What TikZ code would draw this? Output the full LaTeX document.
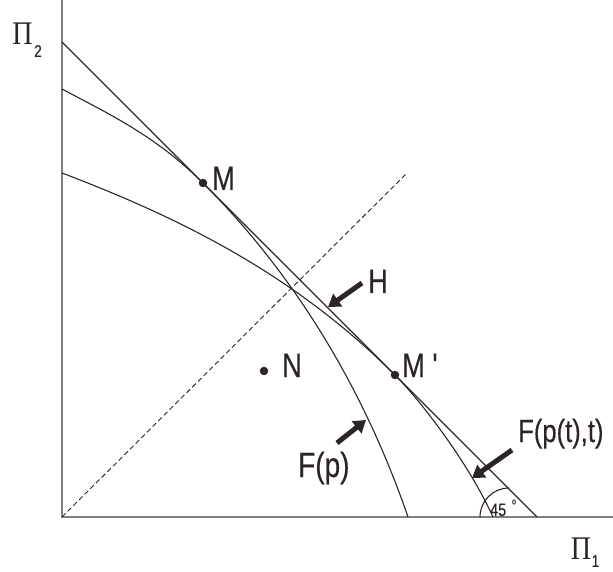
\documentclass[tikz,border=0pt]{standalone}
\usepackage{fontspec}
\newfontfamily\lab{Liberation Sans}[FakeStretch=0.8,FakeBold=0.4]
\newfontfamily\pif{Liberation Serif}[FakeStretch=0.85]
\usetikzlibrary{arrows.meta}
\definecolor{ink}{RGB}{45,36,41}
\definecolor{axisgray}{RGB}{128,128,128}
\begin{document}
\begin{tikzpicture}[x=1pt,y=1pt,
 curve/.style={draw=ink,line width=1.1pt},
 axisline/.style={draw=axisgray,line width=1.6pt},
 fat/.style={draw=ink,line width=5pt,-{Triangle[length=12pt,width=15pt]}},
 lbl/.style={inner sep=0pt,anchor=base west,text=ink,font=\lab\fontsize{34}{36}\selectfont},
 dot/.style={circle,fill=ink,inner sep=0pt,minimum size=8.5pt}]
\useasboundingbox (-62,-54) rectangle (551,517);
% axes
\draw[axisline] (0,517) -- (0,0) -- (551,0);
% diagonal
\draw[ink,line width=0.9pt,dash pattern=on 5pt off 3pt] (0,0) -- (345,344);
% tangent line
\draw[curve] (0,475) -- (475,0);
% F(p)
\draw[curve] (0,428) .. controls (47,403) and (94,381) .. (141,334)
  .. controls (221,254) and (296,145) .. (346,0);
% F(p(t),t)
\draw[curve] (0,344) .. controls (120,298.4) and (233,242) .. (333,142)
  .. controls (358,117) and (406,55) .. (431,0);
% 45 degree arc
\draw[curve] (418,0) arc[start angle=180,end angle=90,radius=29];
% dots
\node[dot] (m) at (141,334) {};
\node[dot] (mp) at (333,142) {};
\node[dot] (n) at (202,146) {};
% labels
\node[lbl] (mlab) at (150,327) {M};
\node[lbl] (mplab) at (340,140) {M '};
\node[lbl] (nlab) at (220,140) {N};
\node[lbl] (hlab) at (306,224) {H};
\node[lbl,font=\lab\fontsize{35}{36}\selectfont] (fplab) at (236,40) {F(p)};
\node[lbl,font=\lab\fontsize{32}{34}\selectfont] (fptlab) at (456,75) {F(p(t),t)};
\node[lbl,font=\lab\fontsize{18}{20}\selectfont] (deg) at (428,1) {45};
\node[inner sep=0pt,text=ink,font=\lab\fontsize{9}{10}\selectfont] (degsym) at (452,15) {o};
% axis labels
\node[inner sep=0pt,text=ink,font=\pif\fontsize{33}{33}\selectfont] (pi2) at (-39.5,483) {Π};
\node[inner sep=0pt,text=ink,font=\lab\fontsize{17}{17}\selectfont] (pi2s) at (-24,466) {2};
\node[inner sep=0pt,text=ink,font=\pif\fontsize{33}{33}\selectfont] (pi1) at (519,-31.5) {Π};
\node[inner sep=0pt,text=ink,font=\lab\fontsize{17}{17}\selectfont] (pi1s) at (533.5,-44) {1};
% arrows
\coordinate (ht) at (300,234);
\coordinate (hh) at (266,210);
\coordinate (ft) at (275,74);
\coordinate (fh) at (304,97);
\coordinate (gt) at (450,67);
\coordinate (gh) at (410,39);
\draw[fat] (ht) -- (hh);
\draw[fat] (ft) -- (fh);
\draw[fat] (gt) -- (gh);
\end{tikzpicture}
\end{document}
